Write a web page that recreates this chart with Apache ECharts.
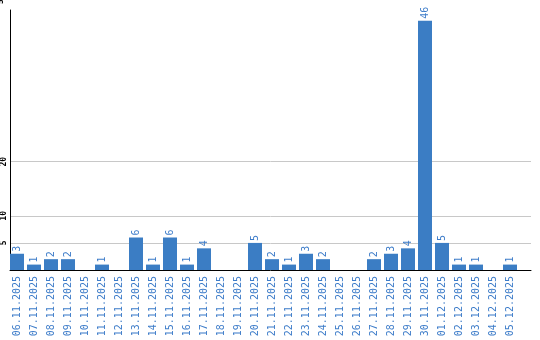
<!DOCTYPE html>
<html><head><meta charset="utf-8">
<script src="https://cdn.jsdelivr.net/npm/echarts@6/dist/echarts.min.js"></script>
<style>html,body{margin:0;padding:0;background:#fff}#c{width:540px;height:340px}</style>
</head><body><div id="c"></div>
<script>
var dates = ["06.11.2025","07.11.2025","08.11.2025","09.11.2025","10.11.2025","11.11.2025","12.11.2025","13.11.2025","14.11.2025","15.11.2025","16.11.2025","17.11.2025","18.11.2025","19.11.2025","20.11.2025","21.11.2025","22.11.2025","23.11.2025","24.11.2025","25.11.2025","26.11.2025","27.11.2025","28.11.2025","29.11.2025","30.11.2025","01.12.2025","02.12.2025","03.12.2025","04.12.2025","05.12.2025"];
var counts = [3,1,2,2,0,1,0,6,1,6,1,4,0,0,5,2,1,3,2,0,0,2,3,4,46,5,1,1,0,1];
var yTickLabels = [5,10,20];
var yTopLabel = 50;
var gridValues = [5,10,20];

var BLUE = '#3b7dc4';
var TXT = '#3d7cc9';
var FONT = '"DejaVu Sans Mono", monospace';
var chart = echarts.init(document.getElementById('c'), null, {renderer:'canvas'});
chart.setOption({
  animation:false,
  backgroundColor:'#fff',
  grid:[
    {left:10, right:9, top:10, bottom:70, containLabel:false, outerBoundsMode:'none'},
    {left:8.5, width:510, top:-0.83, bottom:70, containLabel:false, outerBoundsMode:'none'}
  ],
  xAxis:[
    {gridIndex:0, type:'value', min:0, max:1, axisLine:{show:true, onZero:false, lineStyle:{color:'#000', width:1}}, axisTick:{show:false}, axisLabel:{show:false}, splitLine:{show:false}},
    {gridIndex:1, type:'category', data:dates, axisLine:{show:false}, axisTick:{show:false}, splitLine:{show:false},
     axisLabel:{interval:0, rotate:90, margin:6, color:TXT, fontFamily:FONT, fontSize:10}}
  ],
  yAxis:[
    {gridIndex:0, type:'value', min:0, max:48, interval:5, axisLine:{show:true, lineStyle:{color:'#000', width:1}}, axisTick:{show:false}, splitLine:{show:false},
     axisLabel:{rotate:90, margin:2, color:'#000', fontFamily:FONT, fontSize:8, fontWeight:'bold',
       formatter:function(v){return yTickLabels.indexOf(v)>=0 ? String(v) : '';}}},
    {gridIndex:1, type:'value', min:0, max:50, interval:50, axisLine:{show:false}, axisTick:{show:false}, splitLine:{show:false},
     axisLabel:{rotate:90, margin:3.5, color:'#000', fontFamily:FONT, fontSize:8, fontWeight:'bold',
       formatter:function(v){return v===yTopLabel ? String(v) : '';}}}
  ],
  series:[
    {type:'line', xAxisIndex:0, yAxisIndex:0, data:[], z:0, silent:true,
     markLine:{silent:true, z:0, symbol:['none','none'], label:{show:false}, animation:false,
       lineStyle:{color:'#c8c8c8', type:'solid', width:1},
       data:gridValues.map(function(v){return {yAxis:v};})}},
    {type:'bar', xAxisIndex:1, yAxisIndex:1, data:counts, barWidth:14, z:5,
     itemStyle:{color:BLUE},
     label:{show:true, position:'top', rotate:90, align:'left', verticalAlign:'middle', distance:2,
       color:TXT, fontFamily:FONT, fontSize:10,
       formatter:function(p){return p.value ? String(p.value) : '';}}}
  ]
});
</script></body></html>
